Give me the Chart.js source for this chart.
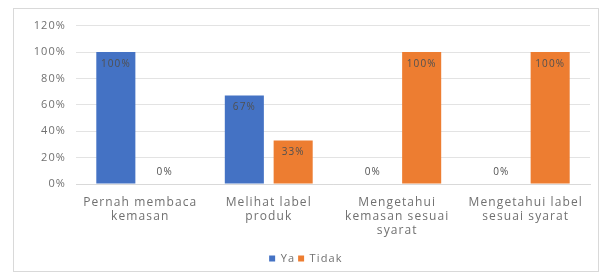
<!DOCTYPE html>
<html>
<head>
<meta charset="utf-8">
<script src="https://cdn.jsdelivr.net/npm/chart.js@4"></script>
<style>
  body { margin: 0; background: #fff; }
  #box { position: absolute; left: 13px; top: 8px; width: 586px; height: 264px; border: 1px solid #d9d9d9; box-sizing: border-box; }
  canvas { position: absolute; left: 14px; top: 9px; display: block; }
</style>
</head>
<body>
<div id="box"></div>
<canvas id="chart" width="584" height="265"></canvas>
<script>
const categories = [
  ["Pernah membaca", "kemasan"],
  ["Melihat label", "produk"],
  ["Mengetahui", "kemasan sesuai", "syarat"],
  ["Mengetahui label", "sesuai syarat"]
];
const yaValues = [1.00, 0.67, 0.00, 0.00];
const tidakValues = [0.00, 0.33, 1.00, 1.00];
const tickValues = [0, 0.2, 0.4, 0.6, 0.8, 1.0, 1.2];

// wider letter spacing, like the original office chart font
const spacing = {
  id: "spacing",
  beforeDraw(chart) { chart.ctx.letterSpacing = "1.1px"; }
};

// percentage labels, drawn inside the top of each bar
const barLabels = {
  id: "barLabels",
  afterDatasetsDraw(chart) {
    const ctx = chart.ctx;
    ctx.save();
    ctx.font = "10px 'Open Sans', sans-serif";
    ctx.fillStyle = "#505050";
    ctx.textAlign = "center";
    ctx.textBaseline = "middle";
    chart.data.datasets.forEach((ds, i) => {
      chart.getDatasetMeta(i).data.forEach((bar, j) => {
        const v = ds.data[j];
        const y = v === 0 ? bar.y - 12 : bar.y + 12;
        ctx.fillText(Math.round(v * 100) + "%", bar.x, y);
      });
    });
    ctx.restore();
  }
};

Chart.defaults.font.family = "'Open Sans', sans-serif";
Chart.defaults.color = "#707070";

new Chart(document.getElementById("chart"), {
  type: "bar",
  data: {
    labels: categories,
    datasets: [
      { label: "Ya", data: yaValues, backgroundColor: "#4472C4" },
      { label: "Tidak", data: tidakValues, backgroundColor: "#ED7D31" }
    ]
  },
  options: {
    responsive: false,
    animation: false,
    categoryPercentage: 0.76,
    barPercentage: 0.8,
    layout: { padding: { left: 0, right: 8, top: 5, bottom: 0 } },
    plugins: {
      tooltip: { enabled: false },
      legend: {
        position: "bottom",
        labels: { boxWidth: 6, boxHeight: 6, font: { size: 11 }, padding: 3 }
      }
    },
    scales: {
      x: {
        grid: { display: false },
        border: { color: "#d9d9d9" },
        ticks: { font: { size: 12, lineHeight: 1.15 }, padding: 4, maxRotation: 0 },
        afterFit(s) { s.height = 66; }
      },
      y: {
        min: 0,
        max: 1.2,
        afterBuildTicks(s) { s.ticks = tickValues.map(v => ({ value: v })); },
        ticks: {
          font: { size: 11 },
          padding: 10,
          callback: v => Math.round(v * 100) + "%"
        },
        grid: { color: "#e3e3e3", drawTicks: false },
        border: { display: false },
        afterFit(s) { s.width = 62; }
      }
    }
  },
  plugins: [spacing, barLabels]
});
</script>
</body>
</html>
